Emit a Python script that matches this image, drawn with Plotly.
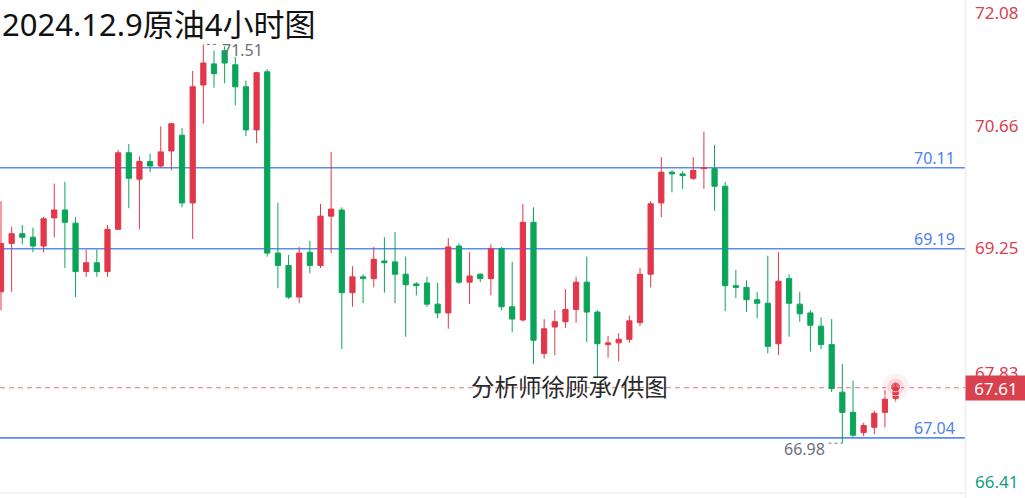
import plotly.graph_objects as go

# ---- data (4-hour crude oil candles) ----
opens = [68.70, 69.25, 69.36, 69.32, 69.22, 69.54, 69.63, 69.48, 68.93, 69.03,
         68.93, 69.41, 70.28, 69.98, 70.18, 70.13, 70.30, 70.48, 69.71, 71.05,
         71.29, 71.44, 71.28, 71.03, 70.54, 71.20, 69.14, 69.00, 68.64, 69.15,
         69.00, 69.56, 69.63, 68.69, 68.87, 68.85, 69.05, 69.04, 68.90, 68.79,
         68.80, 68.56, 68.46, 69.22, 68.81, 68.90, 68.85, 69.19, 68.53, 68.38,
         69.49, 68.00, 68.30, 68.36, 68.50, 68.81, 68.47, 68.10, 68.12, 68.16,
         68.35, 68.90, 69.71, 70.06, 70.04, 69.99, 70.10, 70.10, 69.90, 68.77,
         68.75, 68.61, 68.57, 68.11, 68.85, 68.56, 68.46, 68.31, 68.10, 67.56,
         67.33, 67.10, 67.16, 67.33, 67.49]
closes = [69.25, 69.36, 69.32, 69.22, 69.53, 69.63, 69.49, 68.93, 69.03, 68.93,
          69.41, 70.28, 69.99, 70.18, 70.13, 70.29, 70.61, 69.71, 71.03, 71.30,
          71.18, 71.30, 71.03, 70.54, 71.19, 69.14, 69.00, 68.64, 69.14, 69.00,
          69.56, 69.64, 68.69, 68.87, 68.85, 69.07, 69.03, 68.90, 68.78, 68.77,
          68.56, 68.46, 69.21, 68.81, 68.88, 68.85, 69.19, 68.53, 68.39, 69.49,
          68.15, 68.28, 68.36, 68.50, 68.81, 68.47, 68.11, 68.12, 68.16, 68.37,
          68.90, 69.70, 70.06, 70.04, 70.02, 70.08, 70.11, 69.90, 68.77, 68.75,
          68.61, 68.57, 68.08, 68.82, 68.57, 68.45, 68.32, 68.10, 67.60, 67.33,
          67.07, 67.18, 67.32, 67.48, 67.61]
highs = [69.73, 69.44, 69.46, 69.43, 69.55, 69.93, 69.95, 69.55, 69.18, 69.18,
         69.46, 70.31, 70.38, 70.24, 70.27, 70.58, 70.62, 70.56, 71.21, 71.51,
         71.44, 71.49, 71.37, 71.10, 71.20, 71.23, 69.71, 69.12, 69.21, 69.28,
         69.70, 70.29, 69.66, 68.99, 68.90, 69.21, 69.32, 69.38, 69.10, 68.81,
         68.87, 68.80, 69.31, 69.25, 69.15, 68.91, 69.24, 69.21, 69.04, 69.70,
         69.66, 68.39, 68.49, 68.73, 68.87, 69.10, 68.49, 68.20, 68.23, 68.43,
         68.97, 69.73, 70.23, 70.08, 70.07, 70.23, 70.52, 70.37, 69.95, 68.95,
         68.83, 68.70, 69.11, 69.15, 68.90, 68.70, 68.49, 68.41, 68.39, 67.88,
         67.69, 67.21, 67.35, 67.58, 67.66]
lows = [68.49, 68.70, 69.24, 69.15, 69.15, 69.32, 68.97, 68.64, 68.87, 68.87,
        68.87, 69.41, 69.65, 69.41, 70.06, 70.11, 70.08, 69.66, 69.30, 70.61,
        71.02, 71.07, 70.82, 70.47, 70.39, 69.10, 68.74, 68.62, 68.57, 68.91,
        68.97, 69.14, 68.05, 68.53, 68.57, 68.75, 68.69, 68.57, 68.19, 68.66,
        68.53, 68.40, 68.28, 68.79, 68.56, 68.81, 68.66, 68.49, 68.24, 68.36,
        67.88, 67.94, 67.98, 68.29, 68.35, 68.13, 67.73, 67.95, 67.91, 68.12,
        68.31, 68.75, 69.55, 69.83, 69.87, 69.97, 69.87, 69.62, 68.48, 68.63,
        68.47, 68.40, 68.00, 67.98, 68.19, 68.36, 68.02, 68.05, 67.56, 66.98,
        67.05, 67.06, 67.08, 67.16, 67.45]
idx = list(range(len(opens)))

level_lines = [70.11, 69.19, 67.04]
axis_labels = ["72.08", "70.66", "69.25", "67.83", "66.41"]
axis_label_colors = ["#d9414f", "#d9414f", "#d9414f", "#d9414f", "#14a07f"]
last_price = 67.61
high_label = 71.51
low_label = 66.98
title_text = "2024.12.9原油4小时图"
watermark = "分析师徐顾承/供图"

RED = "#e2374a"
GREEN = "#0ba55a"
BLUE = "#5b8def"
FONT = "Noto Sans, Noto Sans CJK SC, sans-serif"

W, H = 1025, 498
ML, MR, MT, MB = 0, 60, 0, 6
PH = H - MT - MB
PW = W - ML - MR
px_per_idx = 10.65
x0 = -1 / px_per_idx
x1 = x0 + PW / px_per_idx
y_top = 72.016
y_bot = y_top - PH / 88.0

fig = go.Figure()
fig.add_trace(go.Candlestick(
    x=idx, open=opens, high=highs, low=lows, close=closes,
    increasing=dict(line=dict(color=RED, width=1), fillcolor=RED),
    decreasing=dict(line=dict(color=GREEN, width=1), fillcolor=GREEN),
    whiskerwidth=0, hoverinfo="skip", showlegend=False))

# pulsing dot on the last close
fig.add_trace(go.Scatter(x=[idx[-1]] * 3, y=[last_price + 0.01] * 3, mode="markers",
                         marker=dict(size=[28, 18, 10],
                                     color=["rgba(226,55,74,0.10)", "rgba(226,55,74,0.18)", RED]),
                         hoverinfo="skip", showlegend=False))

shapes = []
for lv in level_lines:
    shapes.append(dict(type="line", xref="paper", x0=0, x1=1, yref="y", y0=lv, y1=lv,
                       line=dict(color=BLUE, width=1.6), layer="below"))
shapes.append(dict(type="line", xref="paper", x0=0, x1=1, yref="y", y0=last_price, y1=last_price,
                   line=dict(color="#e8707c", width=1, dash="5px,4px"), layer="below"))
# borders of the price pane
shapes.append(dict(type="line", xref="paper", x0=1.0005, x1=1.0005, yref="paper", y0=-0.02, y1=1,
                   line=dict(color="#ececf2", width=1.5)))
shapes.append(dict(type="line", xref="paper", x0=0, x1=1, yref="paper", y0=-0.002, y1=-0.002,
                   line=dict(color="#ececf2", width=1.5)))
# dotted leaders for high / low markers
shapes.append(dict(type="line", xref="x", x0=19.35, x1=20.5, yref="y", y0=high_label, y1=high_label,
                   line=dict(color="#777b86", width=1, dash="dot")))
shapes.append(dict(type="line", xref="x", x0=77.7, x1=79, yref="y", y0=low_label, y1=low_label,
                   line=dict(color="#777b86", width=1, dash="dot")))

annotations = []
annotations.append(dict(text=title_text, xref="paper", yref="paper", x=0, y=1, xanchor="left",
                        yanchor="top", xshift=0, yshift=-1, showarrow=False,
                        font=dict(family=FONT, size=31, color="#111111")))
annotations.append(dict(text=watermark, xref="paper", yref="y", x=569 / PW, y=last_price,
                        xanchor="center", yanchor="middle", yshift=1, showarrow=False,
                        font=dict(family=FONT, size=23.5, color="#2a2a2a")))
for lv in level_lines:
    annotations.append(dict(text=f"{lv:.2f}", xref="paper", yref="y", x=957 / PW, y=lv,
                            xanchor="right", yanchor="middle", yshift=10, showarrow=False,
                            font=dict(family=FONT, size=16, color="#4d80f0")))
label_px = [12, 125, 248, 372, 481]
for txt, col, py in zip(axis_labels, axis_label_colors, label_px):
    annotations.append(dict(text=txt, xref="paper", yref="paper", x=1, y=1 - py / PH,
                            xanchor="left", yanchor="middle", xshift=8, showarrow=False,
                            font=dict(family=FONT, size=17, color=col)))
annotations.append(dict(text=f"{last_price:.2f}", xref="paper", yref="y", x=1, y=last_price,
                        xanchor="left", yanchor="middle", xshift=0, showarrow=False,
                        bgcolor="#d9414f", width=56, height=20, borderpad=2, align="center",
                        font=dict(family=FONT, size=17, color="#ffffff")))
annotations.append(dict(text=f"{high_label:.2f}", xref="x", yref="y", x=19, y=high_label,
                        xanchor="left", yanchor="middle", xshift=17, yshift=-5, showarrow=False,
                        font=dict(family=FONT, size=16, color="#6b6f7b")))
annotations.append(dict(text=f"{low_label:.2f}", xref="x", yref="y", x=77.55, y=low_label,
                        xanchor="right", yanchor="middle", yshift=-6, showarrow=False,
                        font=dict(family=FONT, size=16, color="#6b6f7b")))

fig.update_layout(
    width=W, height=H, margin=dict(l=ML, r=MR, t=MT, b=MB),
    paper_bgcolor="white", plot_bgcolor="white",
    shapes=shapes, annotations=annotations, hovermode=False,
    xaxis=dict(range=[x0, x1], showgrid=False, zeroline=False, showticklabels=False,
               showline=False, ticks="", rangeslider=dict(visible=False), fixedrange=True),
    yaxis=dict(range=[y_bot, y_top], showgrid=False, zeroline=False, showticklabels=False,
               showline=False, ticks="", fixedrange=True),
)
fig.write_html("out.html", config={"displayModeBar": False},
               post_script="document.body.style.margin='0';document.body.style.overflow='hidden';")
